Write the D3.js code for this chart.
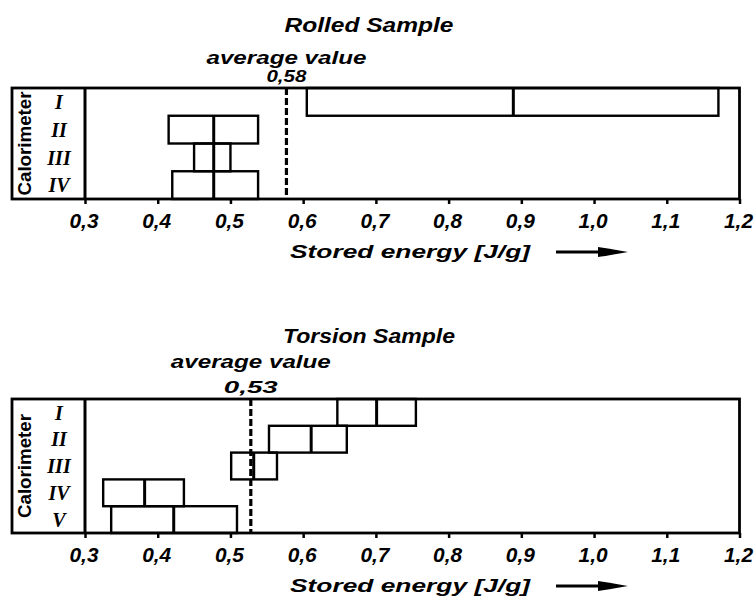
<!DOCTYPE html>
<html>
<head>
<meta charset="utf-8">
<script src="https://cdn.jsdelivr.net/npm/d3@7"></script>
<style>
  html, body { margin: 0; padding: 0; background: #fff; }
  svg { display: block; }
  text { font-family: "Liberation Sans", Arial, sans-serif; font-weight: bold; font-style: italic; fill: #000; }
</style>
</head>
<body>
<svg id="chart" width="754" height="597"></svg>
<script>
// ---- Data ----
const xDomain = [0.3, 1.2];
const tickValues = [0.3, 0.4, 0.5, 0.6, 0.7, 0.8, 0.9, 1.0, 1.1, 1.2];
const tickLabels = ["0,3", "0,4", "0,5", "0,6", "0,7", "0,8", "0,9", "1,0", "1,1", "1,2"];
const axisTitle = "Stored energy [J/g]";
const yTitle = "Calorimeter";

const rolledTitle = "Rolled Sample";
const rolledCalorimeters = ["I", "II", "III", "IV"];
const rolledMin  = [0.605, 0.415, 0.450, 0.420];
const rolledMean = [0.889, 0.477, 0.477, 0.477];
const rolledMax  = [1.171, 0.538, 0.500, 0.538];
const rolledAverage = 0.577;

const torsionTitle = "Torsion Sample";
const torsionCalorimeters = ["I", "II", "III", "IV", "V"];
const torsionMin  = [0.647, 0.553, 0.501, 0.325, 0.336];
const torsionMean = [0.701, 0.611, 0.532, 0.382, 0.422];
const torsionMax  = [0.755, 0.660, 0.564, 0.436, 0.509];
const torsionAverage = 0.528;

// ---- Drawing ----
const svg = d3.select("#chart");
const fmt = v => d3.format(".2f")(v).replace(".", ",");

function drawPanel(p) {
  const g = svg.append("g");
  const x = d3.scaleLinear().domain(xDomain).range([85, 739.5]);
  const y = d3.scaleBand().domain(p.cats).range([p.top, p.bottom]).padding(0);
  const frameLeft = 12;

  // title
  g.append("text").attr("x", 369).attr("y", p.titleY)
    .attr("text-anchor", "middle").attr("font-size", 20)
    .attr("textLength", p.titleLen).attr("lengthAdjust", "spacingAndGlyphs")
    .text(p.title);

  // average labels
  g.append("text").attr("x", x(p.avg)).attr("y", p.top - p.avgOffset)
    .attr("text-anchor", "middle").attr("font-size", 18)
    .attr("textLength", 160).attr("lengthAdjust", "spacingAndGlyphs")
    .text("average value");
  g.append("text").attr("x", x(p.avg)).attr("y", p.top - 6)
    .attr("text-anchor", "middle").attr("font-size", 16)
    .attr("textLength", p.numLen).attr("lengthAdjust", "spacingAndGlyphs")
    .text(fmt(p.avg));

  // boxes
  const rows = p.cats.map((c, i) => ({ c, min: p.min[i], mean: p.mean[i], max: p.max[i] }));
  g.selectAll("rect.box").data(rows).join("rect")
    .attr("class", "box")
    .attr("x", d => x(d.min)).attr("y", d => y(d.c))
    .attr("width", d => x(d.max) - x(d.min)).attr("height", y.bandwidth())
    .attr("fill", "none").attr("stroke", "#000").attr("stroke-width", 2.4);
  g.selectAll("line.mean").data(rows).join("line")
    .attr("class", "mean")
    .attr("x1", d => x(d.mean)).attr("x2", d => x(d.mean))
    .attr("y1", d => y(d.c)).attr("y2", d => y(d.c) + y.bandwidth())
    .attr("stroke", "#000").attr("stroke-width", 3);

  // dashed average line
  g.append("line").attr("x1", x(p.avg)).attr("x2", x(p.avg))
    .attr("y1", p.top).attr("y2", p.bottom)
    .attr("stroke", "#000").attr("stroke-width", 3.2).attr("stroke-dasharray", "7,3");

  // frame
  g.append("rect").attr("x", frameLeft).attr("y", p.top)
    .attr("width", x.range()[1] - frameLeft).attr("height", p.bottom - p.top)
    .attr("fill", "none").attr("stroke", "#000").attr("stroke-width", 2.8);
  g.append("line").attr("x1", x.range()[0]).attr("x2", x.range()[0])
    .attr("y1", p.top).attr("y2", p.bottom)
    .attr("stroke", "#000").attr("stroke-width", 3);

  // x axis ticks (labels drawn separately, larger)
  const axis = d3.axisBottom(x).tickValues(tickValues)
    .tickSize(5).tickFormat("");
  const ax = g.append("g").attr("transform", `translate(0,${p.bottom})`).call(axis);
  ax.select(".domain").remove();
  ax.selectAll(".tick line").attr("stroke", "#000").attr("stroke-width", 2.5);
  g.selectAll("text.tl").data(tickValues).join("text")
    .attr("class", "tl")
    .attr("x", d => x(d) - 1).attr("y", p.bottom + 29)
    .attr("text-anchor", "middle")
    .attr("font-size", 21)
    .attr("textLength", 29).attr("lengthAdjust", "spacingAndGlyphs")
    .text((d, i) => tickLabels[i]);

  // y labels (roman numerals)
  g.selectAll("text.cat").data(p.cats).join("text")
    .attr("class", "cat")
    .attr("x", 59).attr("y", d => y(d) + y.bandwidth() / 2)
    .attr("dy", "0.36em").attr("text-anchor", "middle")
    .style("font-family", "Liberation Serif, serif")
    .attr("font-size", 20)
    .text(d => d);

  // y title
  const cy = (p.top + p.bottom) / 2;
  g.append("text")
    .attr("transform", `translate(31,${cy}) rotate(-90)`)
    .attr("text-anchor", "middle").attr("font-size", 18)
    .style("font-style", "normal")
    .attr("textLength", 104).attr("lengthAdjust", "spacingAndGlyphs")
    .text(yTitle);

  // axis title and arrow
  const ty = p.bottom + 59;
  g.append("text").attr("x", 290).attr("y", ty)
    .attr("font-size", 19)
    .attr("textLength", 240).attr("lengthAdjust", "spacingAndGlyphs")
    .text(axisTitle);
  g.append("line").attr("x1", 556).attr("x2", 605)
    .attr("y1", ty - 6).attr("y2", ty - 6)
    .attr("stroke", "#000").attr("stroke-width", 3);
  g.append("path")
    .attr("d", `M598,${ty - 11} Q606,${ty - 10} 628,${ty - 6} Q606,${ty - 2} 598,${ty - 1} Z`)
    .attr("fill", "#000");
}

drawPanel({
  title: rolledTitle, titleY: 32, titleLen: 169,
  cats: rolledCalorimeters, min: rolledMin, mean: rolledMean, max: rolledMax,
  avg: rolledAverage, top: 88, bottom: 199, avgOffset: 24, numLen: 40
});
drawPanel({
  title: torsionTitle, titleY: 343, titleLen: 172,
  cats: torsionCalorimeters, min: torsionMin, mean: torsionMean, max: torsionMax,
  avg: torsionAverage, top: 399, bottom: 533, avgOffset: 31, numLen: 54
});
</script>
</body>
</html>
